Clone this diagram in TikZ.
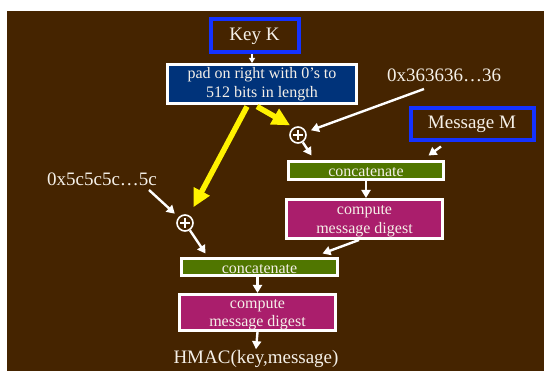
\documentclass[tikz,border=0pt]{standalone}
\usepackage{fontspec}
\setmainfont{Liberation Serif}
\usetikzlibrary{arrows.meta,calc}
\definecolor{bgbrown}{RGB}{69,36,0}
\definecolor{padblue}{RGB}{0,51,122}
\definecolor{catgreen}{RGB}{80,118,0}
\definecolor{digmag}{RGB}{170,30,108}
\definecolor{keyblue}{RGB}{20,50,255}
\definecolor{txt}{RGB}{245,240,232}
\begin{document}
\begin{tikzpicture}[x=1pt,y=-1pt,
 bigtext/.style={font=\fontsize{19}{20}\selectfont, text=txt, inner sep=1pt},
 bluebox/.style={draw=keyblue, line width=4pt, fill=bgbrown, minimum width=88pt, minimum height=33pt, inner sep=0pt, font=\fontsize{19}{20}\selectfont, text=txt},
 whitebox/.style={draw=white, line width=3pt, inner sep=0pt, font=\fontsize{16}{18.5}\selectfont, text=txt, align=center},
 xorsym/.style={circle, draw=white, line width=1.6pt, fill=bgbrown, minimum size=16pt, inner sep=0pt},
 warrow/.style={draw=white, line width=2.4pt, -{Triangle[length=8pt,width=9pt]}},
 smallarrow/.style={draw=white, line width=1.5pt, -{Triangle[length=5pt,width=6pt]}},
 yarrow/.style={draw=yellow, line width=5.5pt, -{Triangle[length=18pt,width=17pt]}}
]
\useasboundingbox (0,0) rectangle (544,371);
\fill[white] (0,0) rectangle (544,371);
\fill[bgbrown] (7,11) rectangle (544,371);

\node[bluebox] (keyk) at (254.5,36) {Key K};
\node[whitebox, fill=padblue, minimum width=189pt, minimum height=39pt] (pad) at (262,84) {pad on right with 0’s to\\512 bits in length};
\node[bigtext] (hex36) at (444,75) {0x363636…36};
\node[bluebox, minimum width=123pt, minimum height=32pt] (msgm) at (472,124.5) {Message M};
\node[xorsym] (xor1) at (298,135) {};
\draw[white, line width=1.6pt] ($(xor1)+(-5,0)$) -- ($(xor1)+(5,0)$) ($(xor1)+(0,-5)$) -- ($(xor1)+(0,5)$);
\node[whitebox, fill=catgreen, minimum width=155pt, minimum height=18pt] (cat1) at (366,170.5) {};
\node[font=\fontsize{16}{18.5}\selectfont, text=txt, inner sep=0pt] (cat1t) at ([yshift=-2pt]cat1.center) {concatenate};
\node[whitebox, fill=digmag, minimum width=156pt, minimum height=39pt] (dig1) at (364.5,219) {};
\node[font=\fontsize{16}{19}\selectfont, text=txt, inner sep=0pt, align=center] (dig1t) at ([yshift=-2pt]dig1.center) {compute\\message digest};
\node[bigtext] (hex5c) at (102,179) {0x5c5c5c…5c};
\node[xorsym] (xor2) at (185,223) {};
\draw[white, line width=1.6pt] ($(xor2)+(-5,0)$) -- ($(xor2)+(5,0)$) ($(xor2)+(0,-5)$) -- ($(xor2)+(0,5)$);
\node[whitebox, fill=catgreen, minimum width=156pt, minimum height=17pt] (cat2) at (259.5,267) {};
\node[font=\fontsize{16}{18.5}\selectfont, text=txt, inner sep=0pt] (cat2t) at ([yshift=-2pt]cat2.center) {concatenate};
\node[whitebox, fill=digmag, minimum width=156pt, minimum height=36pt] (dig2) at (257.5,312.5) {};
\node[font=\fontsize{16}{18.5}\selectfont, text=txt, inner sep=0pt, align=center] (dig2t) at ([yshift=-2pt]dig2.center) {compute\\message digest};
\node[bigtext] (hmac) at (256,359) {HMAC(key,message)};

\coordinate (s36) at (424,89);
\coordinate (s5c) at (149,190);

\draw[smallarrow] ([xshift=-2.5pt]keyk.south) -- ([xshift=-2.5pt]keyk.south |- pad.north);
\draw[yarrow, shorten >=4pt] ([xshift=-5pt,yshift=-1.5pt]pad.south) -- (xor1.120);
\draw[yarrow, shorten >=9pt] ([xshift=-15pt,yshift=-1.5pt]pad.south) -- (xor2);
\draw[warrow, shorten >=5pt] (s36) -- (xor1);
\draw[warrow, shorten >=5pt] (s5c) -- (xor2);
\draw[warrow] (xor1) -- ([xshift=24.5pt,yshift=4.5pt]cat1.north west);
\draw[warrow] ([xshift=32.5pt,yshift=-4pt]msgm.south west) -- ([xshift=-16.5pt,yshift=4.5pt]cat1.north east);
\draw[warrow] (cat1.south) -- (cat1.south |- dig1.north);
\draw[warrow] ([xshift=-5.5pt]dig1.south) -- ([xshift=-16.5pt,yshift=3.5pt]cat2.north east);
\draw[warrow] (xor2) -- ([xshift=25.5pt,yshift=3.5pt]cat2.north west);
\draw[warrow] (dig2.north |- cat2.south) -- (dig2.north);
\draw[warrow] (dig2.south) -- (hmac.north);
\end{tikzpicture}
\end{document}
